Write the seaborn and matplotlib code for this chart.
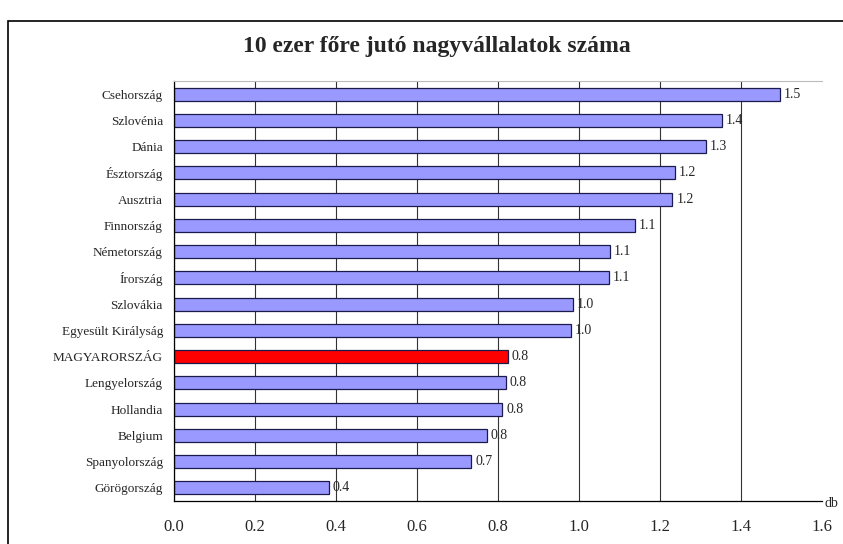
import matplotlib
matplotlib.use("Agg")
import matplotlib.pyplot as plt
import seaborn as sns
import numpy as np
from matplotlib.patches import Rectangle

# data
countries = ["Csehország", "Szlovénia", "Dánia", "Észtország", "Ausztria",
             "Finnország", "Németország", "Írország", "Szlovákia",
             "Egyesült Királyság", "MAGYARORSZÁG", "Lengyelország",
             "Hollandia", "Belgium", "Spanyolország", "Görögország"]
values = [1.496, 1.354, 1.314, 1.238, 1.231, 1.139, 1.076, 1.074, 0.986,
          0.981, 0.824, 0.820, 0.811, 0.773, 0.734, 0.382]
x_ticks = [0.0, 0.2, 0.4, 0.6, 0.8, 1.0, 1.2, 1.4, 1.6]

sns.set_style("white")
plt.rcParams['font.family'] = ['Liberation Serif', 'DejaVu Serif']

colors = ["#FF0000" if c == "MAGYARORSZÁG" else "#9999FF" for c in countries]

fig = plt.figure(figsize=(8.43, 5.44), dpi=100)
ax = fig.add_axes([0.2064, 0.079, 0.7683, 0.772])

sns.barplot(x=values, y=countries, hue=countries, palette=colors, legend=False,
            width=0.5, edgecolor="#1a1a4d", linewidth=0.9, saturation=1, ax=ax)

ax.set_xlim(0, 1.6)
ax.set_ylim(len(countries) - 0.5, -0.5)
ax.set_xticks(x_ticks)
ax.set_xticklabels([f"{t:.1f}" for t in x_ticks], fontsize=12)
ax.set_xlabel("")
ax.set_ylabel("")
ax.tick_params(axis='y', which='major', length=0, pad=8, labelsize=9.5)
ax.set_yticks(np.arange(-0.5, len(countries), 1), minor=True)
ax.tick_params(axis='y', which='minor', length=4, width=0.8, color='black', direction='out')
ax.tick_params(axis='x', length=4, width=0.8, color='black', direction='out', pad=9)

ax.set_axisbelow(True)
ax.grid(axis='x', color='#333333', linewidth=0.8)
ax.grid(axis='y', visible=False)
ax.xaxis.get_gridlines()[-1].set_visible(False)
for s in ['left', 'bottom']:
    ax.spines[s].set_color('black')
    ax.spines[s].set_linewidth(0.9)
ax.spines['top'].set_color('#bbbbbb')
ax.spines['top'].set_linewidth(0.8)
ax.spines['right'].set_visible(False)

for i, v in enumerate(values):
    ax.text(v + 0.01, i, f"{v:.1f}", va='center', ha='left', fontsize=10)

ax.text(1.005, -0.005, "db", transform=ax.transAxes, ha='left', va='center', fontsize=10)

fig.text(0.518, 0.915, "10 ezer főre jutó nagyvállalatok száma",
         ha='center', va='center', fontsize=17, fontweight='bold')

fig.patches.append(Rectangle((8 / 843, -0.05), 1.2, 1 - 21 / 544 + 0.05,
                             transform=fig.transFigure, fill=False,
                             edgecolor='black', linewidth=1.2))

fig.savefig("out.png", dpi=100)
